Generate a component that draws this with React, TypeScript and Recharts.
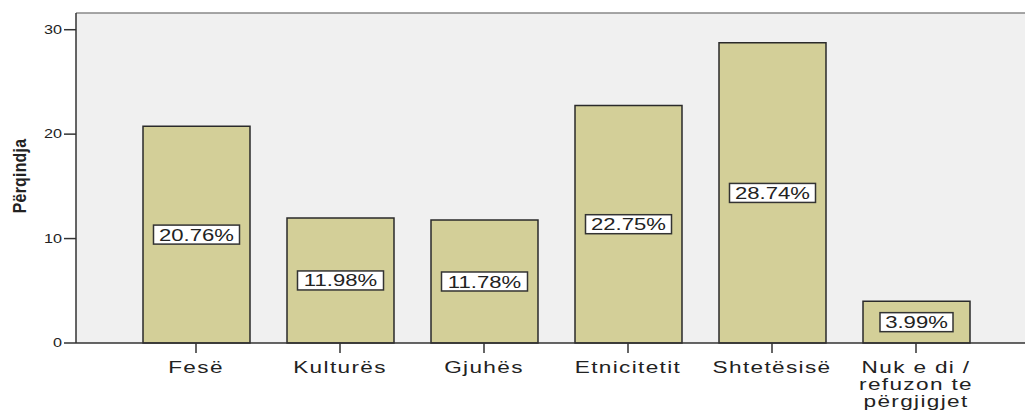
import { BarChart, Bar, XAxis, YAxis, ReferenceLine, CartesianGrid, LabelList } from 'recharts';

const categories = ['Fesë', 'Kulturës', 'Gjuhës', 'Etnicitetit', 'Shtetësisë', 'Nuk e di / refuzon te përgjigjet'];
const percentages = [20.76, 11.98, 11.78, 22.75, 28.74, 3.99];
const yTicks = [0, 10, 20, 30];
const yMax = 31.6;

// the last category is wrapped on three lines like the original
const categoryLines: Record<string, string[]> = {
  'Nuk e di / refuzon te përgjigjet': ['Nuk e di /', 'refuzon te', 'përgjigjet'],
};

const data = categories.map((name, i) => ({ name, value: percentages[i] }));

const TEXT = '#222';
const FONT = '"Liberation Sans", Arial, sans-serif';

const XTick = ({ x, y, payload }: any) => {
  const lines = categoryLines[payload.value] ?? [payload.value];
  return (
    <g transform={`translate(${x},${y}) scale(1.33,1)`}>
      <text textAnchor="middle" fontSize={17} fontFamily={FONT} fill={TEXT} letterSpacing={1}>
        {lines.map((l, i) => (
          <tspan key={i} x={0} dy={i === 0 ? 18 : 17}>{l}</tspan>
        ))}
      </text>
    </g>
  );
};

const YTick = ({ x, y, payload }: any) => (
  <g transform={`translate(${x},${y}) scale(1.35,1)`}>
    <text textAnchor="end" dominantBaseline="central" fontSize={12} fontFamily={FONT} fill={TEXT}>
      {payload.value}
    </text>
  </g>
);

const ValueLabel = ({ x, y, width, height, value }: any) => {
  const txt = `${Number(value).toFixed(2)}%`;
  const cx = x + width / 2;
  const cy = y + height / 2;
  const w = txt.length * 13 + 8;
  return (
    <g>
      <rect x={cx - w / 2} y={cy - 9.5} width={w} height={19} fill="#fff" stroke="#333" strokeWidth={1.5} />
      <g transform={`translate(${cx},${cy}) scale(1.3,1)`}>
        <text textAnchor="middle" dominantBaseline="central" fontSize={17} fontFamily={FONT} fill={TEXT}>
          {txt}
        </text>
      </g>
    </g>
  );
};

// rotated axis title, a bit condensed like the SPSS output
const YLabel = () => (
  <g transform="translate(20,176) rotate(-90) scale(0.88,1)">
    <text
      textAnchor="middle"
      dominantBaseline="central"
      fontSize={18}
      fontWeight="bold"
      letterSpacing={0.3}
      fontFamily={FONT}
      fill={TEXT}
    >
      Përqindja
    </text>
  </g>
);

export default function App() {
  return (
    <div style={{ position: 'absolute', left: 0, top: 0, background: '#fff' }}>
      <BarChart width={1025} height={410} data={data} margin={{ top: 13, right: 0, left: 0, bottom: 0 }}>
        <CartesianGrid horizontal={false} vertical={false} fill="#f0f0f0" />
        <XAxis
          dataKey="name"
          interval={0}
          height={67}
          padding={{ left: 48, right: 37 }}
          axisLine={{ stroke: '#333', strokeWidth: 1.5 }}
          tickLine={{ stroke: '#333', strokeWidth: 1.5 }}
          tickSize={10}
          tick={<XTick />}
        />
        <YAxis
          domain={[0, yMax]}
          ticks={yTicks}
          width={76}
          axisLine={{ stroke: '#333', strokeWidth: 1.5 }}
          tickLine={{ stroke: '#333', strokeWidth: 1.5 }}
          tickSize={12}
          tick={<YTick />}
          label={<YLabel />}
        />
        <ReferenceLine y={yMax} stroke="#888" strokeWidth={1.5} />
        <Bar dataKey="value" barSize={107} fill="#d3cf98" stroke="#2a2a2a" strokeWidth={1.5} isAnimationActive={false}>
          <LabelList dataKey="value" content={<ValueLabel />} />
        </Bar>
      </BarChart>
    </div>
  );
}
